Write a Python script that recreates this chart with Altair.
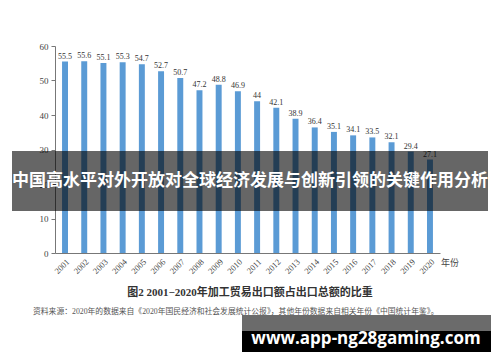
import altair as alt
import pandas as pd

years = ["2001", "2002", "2003", "2004", "2005", "2006", "2007", "2008", "2009", "2010",
         "2011", "2012", "2013", "2014", "2015", "2016", "2017", "2018", "2019", "2020"]
values = [55.5, 55.6, 55.1, 55.3, 54.7, 52.7, 50.7, 47.2, 48.8, 46.9,
          44.0, 42.1, 38.9, 36.4, 35.1, 34.1, 33.5, 32.1, 29.4, 27.1]
value_labels = ["55.5", "55.6", "55.1", "55.3", "54.7", "52.7", "50.7", "47.2", "48.8", "46.9",
                "44", "42.1", "38.9", "36.4", "35.1", "34.1", "33.5", "32.1", "29.4", "27.1"]
y_ticks = [0, 10, 20, 30, 40, 50, 60]

overlay_title = "中国高水平对外开放对全球经济发展与创新引领的关键作用分析"
caption = "图2  2001−2020年加工贸易出口额占出口总额的比重"
source = "资料来源：2020年的数据来自《2020年国民经济和社会发展统计公报》，其他年份数据来自相关年份《中国统计年鉴》。"
x_unit = "年份"
watermark = "www.app-ng28gaming.com"

df = pd.DataFrame({"year": years, "value": values, "label": value_labels})
one = pd.DataFrame({"k": [0]})

SERIF = "Liberation Serif, Noto Sans CJK SC"

x_enc = alt.X("year:N", sort=years,
              scale=alt.Scale(paddingInner=0.69, paddingOuter=0.367),
              axis=alt.Axis(title=None, labelAngle=-45, labelFont=SERIF, labelFontSize=8.5,
                            labelColor="#444", ticks=False, labelPadding=4,
                            domainColor="#777", domainWidth=1))
y_enc = alt.Y("value:Q", scale=alt.Scale(domain=[0, 60], nice=False),
              axis=alt.Axis(title=None, values=y_ticks, grid=False, labelFont=SERIF,
                            labelFontSize=9, labelColor="#444", tickColor="#777",
                            labelOverlap=False,
                            tickSize=4, domainColor="#777", domainWidth=1, labelPadding=3))

base = alt.Chart(df).encode(x=x_enc, y=y_enc)
bars = base.mark_bar(color="#5b9bd5")
labels = base.mark_text(font=SERIF, fontSize=8, color="#333", baseline="bottom", dy=-1).encode(
    text="label:N")

band = alt.Chart(one).mark_rect(color="#000", opacity=0.6).encode(
    x=alt.value(-43), x2=alt.value(433), y=alt.value(105), y2=alt.value(165))
band_text = alt.Chart(one).mark_text(font="Noto Sans CJK SC", fontWeight="bold", fontSize=17,
                                     color="white", align="center", baseline="middle").encode(
    x=alt.value(195), y=alt.value(135), text=alt.value(overlay_title))

unit_text = alt.Chart(one).mark_text(font=SERIF, fontSize=9, color="#444", align="left",
                                     baseline="middle").encode(
    x=alt.value(386), y=alt.value(217), text=alt.value(x_unit))
cap_text = alt.Chart(one).mark_text(font=SERIF, fontWeight="bold", fontSize=11, color="#333",
                                    align="center", baseline="middle").encode(
    x=alt.value(195), y=alt.value(247), text=alt.value(caption))
src_text = alt.Chart(one).mark_text(font=SERIF, fontSize=7.8, color="#555", align="left",
                                    baseline="middle").encode(
    x=alt.value(-22), y=alt.value(266), text=alt.value(source))

wm_gray = alt.Chart(one).mark_rect(color="#6b6b6b").encode(
    x=alt.value(187), x2=alt.value(436), y=alt.value(269), y2=alt.value(285))
wm_black = alt.Chart(one).mark_rect(color="#000").encode(
    x=alt.value(187), x2=alt.value(436), y=alt.value(285), y2=alt.value(306))
wm_text = alt.Chart(one).mark_text(font="Open Sans", fontWeight="bold", fontSize=17, color="white",
                                   align="center", baseline="middle").encode(
    x=alt.value(311), y=alt.value(293), text=alt.value(watermark))

chart = alt.layer(bars, labels, band, band_text, unit_text, cap_text, src_text,
                  wm_gray, wm_black, wm_text).properties(
    width=385, height=207,
    padding={"left": 47, "top": 38, "right": 52, "bottom": 101},
    autosize="none",
    background="white",
).configure_view(stroke=None)

chart.save("out.html", embed_options={"renderer": "svg", "actions": False})
